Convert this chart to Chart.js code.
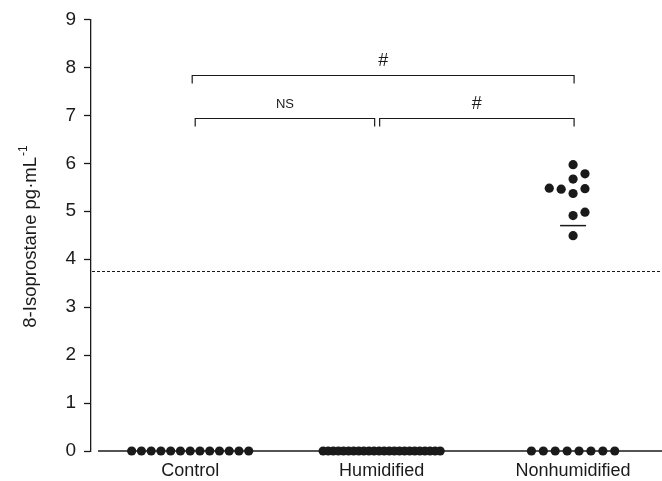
<!DOCTYPE html>
<html><head><meta charset="utf-8">
<script src="https://cdn.jsdelivr.net/npm/chart.js@4.4.1/dist/chart.umd.min.js"></script>
<style>html,body{margin:0;padding:0;background:#fff}#wrap{width:662px;height:481px}</style>
</head><body><div id="wrap"><canvas id="c" width="662" height="481"></canvas></div>
<script>
const categories = ['Control', 'Humidified', 'Nonhumidified'];
const controlValues = [0,0,0,0,0,0,0,0,0,0,0,0,0];
const humidifiedValues = [0,0,0,0,0,0,0,0,0,0,0,0,0,0,0,0,0,0,0,0,0,0,0,0];
const nonhumidifiedValues = [0,0,0,0,0,0,0,0,5.97,5.78,5.67,5.48,5.46,5.47,5.37,4.91,4.98,4.49];
const yTicks = [0,1,2,3,4,5,6,7,8,9];
const detectionLimit = 3.75;
const comparisons = [
  { from: 0, to: 2, y: 7.85, label: '#' },
  { from: 0, to: 1, y: 6.95, label: 'NS' },
  { from: 1, to: 2, y: 6.95, label: '#' }
];
const yTitle = '8-Isoprostane pg\u00B7mL';
const yTitleSup = '-1';

const groups = [controlValues, humidifiedValues, nonhumidifiedValues];
const FONT = '"Liberation Sans", Arial, sans-serif';
const INK = '#1a1a1a';
// approximate pixel sizes of one unit, used only to spread dots side by side
const PX_PER_X = 193, PX_PER_Y = 48;
const STEP = 12, ROW_MAX = 118, HIT = 10;

function layoutGroup(values, center) {
  const counts = {};
  values.forEach(v => counts[v] = (counts[v] || 0) + 1);
  const pts = [];
  Object.keys(counts).forEach(k => {
    const n = counts[k];
    if (n < 2) return;
    const step = Math.min(STEP, ROW_MAX / (n - 1));
    for (let i = 0; i < n; i++) {
      pts.push({ x: center + (i - (n - 1) / 2) * step / PX_PER_X, y: +k });
    }
  });
  const singles = values.filter(v => counts[v] === 1).slice().sort((a, b) => a - b);
  const placed = [];
  singles.forEach(v => {
    const free = s => placed.every(p => p.slot !== s || Math.abs(p.v - v) * PX_PER_Y >= HIT);
    let slot = null;
    for (let k = 0; slot === null && k < 10; k++) {
      if (k === 0) { if (free(0)) slot = 0; continue; }
      const r = free(k), l = free(-k);
      if (r && l) {
        const nr = placed.filter(p => p.slot > 0).length;
        const nl = placed.filter(p => p.slot < 0).length;
        slot = nl < nr ? -k : k;
      } else if (r) slot = k; else if (l) slot = -k;
    }
    placed.push({ slot, v });
    pts.push({ x: center + slot * STEP / PX_PER_X, y: v });
  });
  return pts;
}
function median(a) {
  const s = a.slice().sort((x, y) => x - y), m = s.length / 2;
  return s.length % 2 ? s[Math.floor(m)] : (s[m - 1] + s[m]) / 2;
}

const datasets = groups.map((g, i) => ({
  label: categories[i],
  data: layoutGroup(g, i),
  pointRadius: 4.6,
  pointHoverRadius: 4.6,
  pointBackgroundColor: INK,
  pointBorderWidth: 0,
  clip: false
}));

const decor = {
  id: 'decor',
  beforeDatasetsDraw(chart) {
    const { ctx, chartArea: ca, scales: { x, y } } = chart;
    ctx.save();
    ctx.strokeStyle = INK; ctx.lineWidth = 1.3;
    ctx.beginPath(); ctx.moveTo(ca.left + 7, ca.bottom); ctx.lineTo(chart.width, ca.bottom); ctx.stroke();
    const yd = Math.round(y.getPixelForValue(detectionLimit)) + 0.5;
    ctx.lineWidth = 1; ctx.setLineDash([3, 2]);
    ctx.beginPath(); ctx.moveTo(ca.left + 1, yd); ctx.lineTo(chart.width, yd); ctx.stroke();
    ctx.setLineDash([]);
    comparisons.forEach(c => {
      const shared = e => comparisons.some(o => o !== c && o.y === c.y && (o.from === e || o.to === e));
      let x1 = x.getPixelForValue(c.from) + 2, x2 = x.getPixelForValue(c.to) + 1;
      if (shared(c.from)) x1 -= 4;
      if (shared(c.to)) x2 -= 8;
      if (!shared(c.from) && comparisons.some(o => o !== c && o.y === c.y)) x1 += 3;
      const yp = Math.round(y.getPixelForValue(c.y)) + 0.5;
      ctx.lineWidth = 1.2; ctx.strokeStyle = INK;
      ctx.beginPath(); ctx.moveTo(x1, yp + 8); ctx.lineTo(x1, yp); ctx.lineTo(x2, yp); ctx.lineTo(x2, yp + 8); ctx.stroke();
      ctx.fillStyle = INK; ctx.textAlign = 'center'; ctx.textBaseline = 'middle';
      ctx.font = (c.label === 'NS' ? '13px ' : '18px ') + FONT;
      ctx.fillText(c.label, (x1 + x2) / 2, yp - 14);
    });
    ctx.restore();
  },
  afterDatasetsDraw(chart) {
    const { ctx, scales: { x, y } } = chart;
    ctx.save();
    ctx.strokeStyle = INK; ctx.lineWidth = 1.5;
    groups.forEach((g, i) => {
      const m = median(g);
      if (m === 0) return;
      const cx = x.getPixelForValue(i), yp = y.getPixelForValue(m);
      ctx.beginPath(); ctx.moveTo(cx - 13, yp); ctx.lineTo(cx + 13, yp); ctx.stroke();
    });
    ctx.translate(31, 237); ctx.rotate(-Math.PI / 2);
    ctx.fillStyle = INK; ctx.textBaseline = 'middle'; ctx.textAlign = 'left';
    ctx.font = '18.5px ' + FONT; const w = ctx.measureText(yTitle).width;
    ctx.font = '12px ' + FONT; const ws = ctx.measureText(yTitleSup).width;
    ctx.font = '18.5px ' + FONT; ctx.fillText(yTitle, -(w + ws) / 2, 0);
    ctx.font = '12px ' + FONT; ctx.fillText(yTitleSup, -(w + ws) / 2 + w + 1, -7);
    ctx.restore();
  }
};

new Chart(document.getElementById('c'), {
  type: 'scatter',
  data: { datasets },
  options: {
    responsive: false, devicePixelRatio: 1, animation: false,
    layout: { padding: { top: 19, left: 0, right: 0, bottom: 0 } },
    plugins: { legend: { display: false }, tooltip: { enabled: false } },
    scales: {
      x: {
        type: 'linear', min: -100 / 193, max: 471 / 193,
        afterBuildTicks: s => { s.ticks = categories.map((_, i) => ({ value: i })); },
        afterFit: s => { s.height = 30; s.paddingLeft = 0; s.paddingRight = 0; },
        border: { display: false },
        grid: { display: true, drawOnChartArea: false, drawTicks: false },
        ticks: { padding: 9, color: INK, font: { size: 18, family: FONT }, autoSkip: false, maxRotation: 0,
                 callback: v => categories[v] }
      },
      y: {
        min: 0, max: 9,
        afterBuildTicks: s => { s.ticks = yTicks.map(v => ({ value: v })); },
        afterFit: s => { s.width = 91; },
        border: { display: true, color: INK, width: 1.3 },
        grid: { drawOnChartArea: false, drawTicks: true, tickLength: 7, tickColor: INK, tickWidth: 1.3 },
        ticks: { padding: 8, color: INK, font: { size: 19, family: FONT } }
      }
    }
  },
  plugins: [decor]
});
</script></body></html>
